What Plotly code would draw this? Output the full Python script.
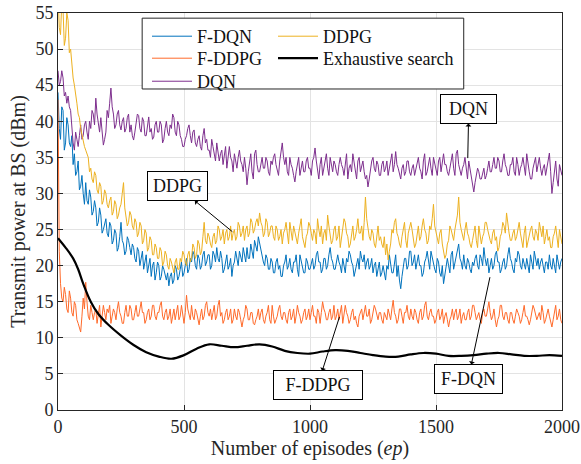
import plotly.graph_objects as go

# Episodes sampled every 5 steps
episodes = list(range(0, 2001, 5))

f_dqn = [
    44.0, 39.0, 37.5, 42.0, 41.5, 36.0, 37.0, 40.5, 39.5, 37.0, 36.5, 38.0, 34.0, 35.5, 32.5, 33.0, 34.5, 30.5, 31.0, 32.5,
    30.0, 28.5, 31.5, 29.0, 28.5, 30.5, 29.5, 27.0, 27.5, 29.0, 28.0, 25.5, 26.0, 28.0, 27.0, 24.5, 25.0, 26.0, 26.5, 24.5,
    24.0, 26.0, 25.5, 23.0, 23.5, 25.0, 24.5, 22.0, 22.5, 24.0, 26.0, 23.5, 23.0, 21.5, 22.0, 24.0, 23.5, 22.5, 21.5, 23.0,
    22.5, 21.0, 20.5, 22.5, 22.0, 20.0, 21.0, 22.0, 19.5, 20.5, 21.5, 19.0, 20.0, 21.0, 18.5, 20.0, 20.5, 18.0, 19.0, 20.5,
    20.0, 18.0, 18.5, 20.0, 19.5, 18.5, 18.0, 19.0, 17.2, 18.5, 19.0, 17.5, 18.0, 20.0, 19.5, 18.0, 18.5, 19.5, 20.5, 18.5,
    19.0, 20.0, 21.0, 19.0, 19.5, 21.0, 20.5, 22.0, 21.5, 20.0, 19.5, 21.5, 21.0, 19.5, 20.0, 21.5, 22.0, 20.0, 20.5, 21.5,
    21.5, 19.5, 20.0, 22.0, 21.5, 20.5, 22.5, 21.0, 20.5, 22.0, 21.0, 19.0, 19.5, 20.5, 21.5, 19.5, 20.0, 21.0, 18.5, 20.0,
    20.5, 22.0, 21.0, 20.0, 22.0, 21.0, 20.5, 22.5, 21.5, 20.5, 22.5, 21.0, 21.0, 23.0, 22.0, 21.0, 23.5, 22.5, 22.0, 24.0,
    23.0, 22.0, 21.5, 20.5, 20.0, 21.5, 21.0, 19.5, 19.5, 21.0, 20.5, 19.0, 19.0, 20.5, 21.0, 19.5, 20.0, 18.5, 18.5, 20.0,
    20.5, 21.5, 19.5, 20.0, 21.0, 19.5, 19.0, 20.5, 20.5, 21.5, 19.5, 18.5, 21.5, 20.5, 20.0, 19.0, 19.0, 21.0, 20.5, 19.5,
    19.5, 20.5, 21.0, 19.5, 20.0, 21.5, 22.0, 20.5, 20.5, 19.0, 19.5, 21.0, 21.0, 19.5, 20.0, 21.5, 22.5, 21.0, 20.5, 19.5,
    19.5, 20.5, 21.5, 20.5, 20.0, 19.0, 21.0, 20.0, 19.0, 21.0, 20.5, 22.0, 21.5, 20.5, 20.0, 18.5, 19.5, 20.5, 21.0, 19.5,
    22.0, 21.0, 20.5, 21.5, 19.5, 20.5, 21.0, 19.5, 20.0, 21.0, 19.0, 20.0, 20.5, 18.5, 19.5, 20.5, 18.5, 19.0, 20.0, 19.0,
    18.0, 20.0, 19.5, 21.5, 20.5, 19.0, 19.0, 20.5, 21.5, 18.5, 20.0, 18.0, 16.8, 18.5, 19.5, 21.0, 21.0, 19.5, 20.0, 22.0,
    22.0, 20.0, 20.5, 21.5, 19.5, 20.5, 21.5, 20.0, 20.0, 18.5, 19.0, 20.5, 21.0, 22.0, 20.5, 19.5, 22.0, 21.0, 20.0, 19.5,
    19.0, 21.0, 20.5, 19.0, 18.5, 20.0, 17.5, 18.5, 19.5, 21.0, 20.0, 19.0, 21.5, 22.0, 19.5, 20.5, 21.0, 22.0, 23.0, 21.0,
    20.5, 19.5, 21.5, 20.0, 19.5, 21.0, 20.5, 19.5, 19.0, 20.5, 20.0, 21.0, 21.5, 20.0, 19.5, 21.5, 21.0, 20.0, 22.5, 21.0,
    20.0, 21.0, 19.0, 20.0, 21.0, 19.5, 20.0, 21.5, 22.0, 20.5, 20.5, 19.0, 19.5, 20.5, 21.0, 19.5, 20.0, 21.5, 22.5, 21.0,
    20.5, 19.5, 19.0, 21.0, 20.5, 22.0, 21.5, 20.0, 19.5, 21.0, 20.0, 19.5, 21.0, 20.0, 19.0, 21.5, 20.5, 19.5, 22.0, 21.0,
    20.0, 21.0, 19.5, 20.5, 21.0, 20.0, 19.0, 20.5, 20.5, 19.5, 21.5, 20.0, 19.5, 21.0, 20.0, 19.0, 21.5, 20.5, 19.5, 20.5,
    21.0,
]

ddpg = [
    58.0, 53.0, 52.0, 56.5, 55.5, 50.5, 51.5, 55.0, 54.0, 49.5, 50.0, 47.5, 46.0, 45.0, 44.0, 42.5, 41.0, 40.5, 39.0, 38.0,
    37.5, 36.5, 36.0, 35.5, 35.0, 33.0, 33.5, 32.0, 31.5, 33.0, 32.5, 30.5, 30.0, 31.5, 31.0, 28.5, 29.0, 30.5, 30.0, 28.5,
    28.0, 29.0, 29.5, 27.0, 27.5, 29.0, 28.5, 26.5, 27.0, 28.0, 28.5, 30.0, 31.5, 28.0, 27.0, 25.5, 26.0, 27.5, 27.0, 25.5,
    25.0, 26.5, 26.0, 24.0, 24.5, 26.0, 25.5, 23.0, 23.5, 25.0, 24.5, 22.0, 22.5, 24.0, 23.5, 21.5, 21.5, 23.0, 22.5, 21.0,
    21.0, 22.5, 22.0, 20.0, 20.5, 22.0, 21.5, 20.0, 19.5, 21.0, 20.5, 19.5, 19.0, 20.5, 21.0, 19.5, 19.5, 21.0, 20.5, 22.0,
    21.5, 20.5, 20.0, 21.5, 22.0, 20.5, 21.0, 23.0, 22.5, 21.0, 21.5, 23.5, 23.0, 21.5, 22.0, 24.0, 26.0, 23.5, 23.0, 24.5,
    24.0, 23.0, 22.5, 24.0, 24.5, 23.0, 23.5, 25.5, 25.0, 23.5, 24.0, 25.0, 23.0, 24.5, 25.0, 23.5, 24.0, 25.5, 23.5, 24.5,
    25.0, 23.5, 24.0, 26.0, 25.5, 24.0, 24.5, 25.5, 23.5, 25.0, 25.5, 24.0, 24.5, 26.5, 26.0, 24.5, 25.0, 26.0, 26.5, 25.5,
    27.3, 26.0, 25.5, 24.0, 24.5, 26.5, 26.0, 24.0, 24.5, 25.5, 25.5, 24.0, 23.5, 25.5, 25.0, 23.5, 24.0, 25.0, 23.0, 24.5,
    25.0, 26.0, 24.0, 23.0, 26.0, 24.5, 23.5, 25.5, 24.5, 23.5, 23.0, 24.5, 25.5, 26.5, 24.0, 23.0, 22.5, 24.0, 24.5, 26.0,
    25.5, 24.5, 23.5, 25.0, 24.5, 23.0, 26.5, 25.0, 24.0, 25.5, 23.0, 24.5, 25.0, 23.5, 27.0, 25.5, 24.5, 23.0, 23.5, 25.0,
    25.5, 23.5, 24.0, 25.5, 22.5, 24.0, 25.0, 26.5, 26.0, 24.5, 24.0, 22.5, 23.0, 24.5, 25.5, 23.5, 24.0, 25.0, 26.5, 24.5,
    24.5, 25.5, 23.5, 26.0, 29.5, 26.5, 25.0, 24.0, 23.5, 25.0, 24.5, 23.0, 22.5, 24.0, 25.5, 23.5, 24.0, 23.0, 22.5, 24.0,
    21.5, 23.0, 20.8, 22.0, 23.0, 25.0, 24.5, 26.0, 26.5, 24.5, 24.0, 23.0, 22.5, 24.0, 25.0, 26.0, 23.5, 22.5, 24.5, 25.5,
    26.0, 25.0, 24.0, 22.5, 23.0, 24.5, 25.5, 23.5, 24.0, 25.5, 26.5, 25.0, 24.5, 23.0, 23.5, 25.5, 25.0, 26.5, 28.5, 25.5,
    24.5, 23.5, 23.0, 24.5, 25.0, 23.0, 22.0, 21.0, 21.5, 23.0, 23.5, 25.5, 25.0, 24.0, 23.5, 25.0, 26.0, 27.0, 29.5, 26.0,
    25.0, 24.0, 23.5, 25.0, 26.0, 24.5, 24.0, 23.0, 22.5, 23.5, 24.5, 25.5, 23.5, 22.5, 25.5, 24.0, 23.0, 24.0, 24.5, 26.0,
    26.0, 25.0, 24.0, 23.5, 23.0, 24.5, 25.0, 23.5, 24.0, 22.0, 22.5, 24.0, 24.5, 26.0, 25.5, 24.5, 27.3, 25.5, 24.5, 23.5,
    23.5, 24.5, 25.0, 23.5, 24.0, 25.0, 26.0, 24.5, 23.5, 22.5, 24.5, 25.5, 22.5, 23.5, 24.0, 25.0, 25.5, 24.0, 23.5, 25.0,
    24.5, 23.5, 26.0, 25.0, 24.0, 25.5, 23.0, 24.0, 25.0, 23.5, 24.0, 22.5, 22.5, 24.0, 24.5, 25.5, 23.5, 22.5, 25.0, 24.0,
    23.0,
]

dqn = [
    47.0, 45.0, 45.5, 47.0, 46.0, 43.5, 44.0, 42.5, 43.5, 42.0, 41.5, 39.0, 37.0, 36.0, 38.5, 37.5, 36.5, 38.0, 39.5, 37.5,
    38.0, 39.5, 40.0, 38.5, 37.5, 40.0, 39.0, 41.5, 41.0, 39.5, 43.2, 41.0, 39.5, 38.5, 40.5, 39.0, 36.7, 37.5, 38.5, 41.5,
    40.5, 42.5, 44.6, 42.0, 41.0, 39.0, 39.5, 41.0, 41.5, 39.5, 38.8, 40.0, 40.5, 38.5, 39.0, 40.5, 41.0, 38.5, 39.5, 38.0,
    37.4, 38.5, 39.5, 41.0, 40.8, 39.0, 38.5, 40.5, 40.0, 38.0, 38.0, 39.5, 40.6, 38.5, 39.0, 37.5, 37.8, 39.5, 40.0, 38.5,
    38.5, 40.0, 39.5, 37.0, 37.5, 39.0, 40.0, 38.5, 38.0, 39.5, 39.0, 41.0, 40.5, 38.5, 38.0, 40.0, 39.5, 38.0, 37.5, 36.5,
    36.5, 37.5, 38.0, 39.0, 39.5, 38.0, 37.0, 38.5, 38.8, 37.0, 36.5, 37.5, 38.0, 36.5, 36.0, 38.0, 39.0, 37.0, 37.5, 36.0,
    36.0, 35.0, 37.5, 36.5, 35.5, 34.5, 37.0, 35.5, 34.5, 35.5, 36.0, 34.0, 35.0, 36.5, 33.5, 35.0, 36.5, 35.0, 34.5, 33.0,
    35.5, 34.5, 33.5, 35.0, 36.0, 34.5, 34.0, 33.0, 35.0, 33.5, 31.2, 33.0, 34.5, 35.5, 33.0, 32.0, 35.5, 36.0, 34.0, 33.0,
    33.0, 34.0, 35.0, 33.5, 33.5, 35.0, 34.5, 33.0, 32.5, 34.5, 34.0, 35.0, 35.5, 34.0, 33.0, 32.5, 34.5, 36.0, 37.0, 35.0,
    34.0, 35.0, 33.0, 32.5, 35.0, 34.0, 33.5, 32.5, 31.6, 33.0, 34.0, 35.0, 32.5, 33.5, 34.5, 33.0, 33.0, 34.5, 35.0, 33.5,
    33.5, 32.5, 34.5, 35.0, 36.3, 34.5, 33.0, 32.0, 34.0, 35.0, 32.5, 33.5, 34.5, 35.5, 33.5, 32.5, 35.0, 34.0, 33.0, 34.5,
    34.0, 33.0, 32.5, 34.0, 35.0, 34.0, 33.5, 32.5, 34.5, 35.5, 32.0, 33.5, 34.0, 33.0, 35.5, 34.5, 33.0, 32.0, 34.5, 35.0,
    33.0, 34.0, 34.5, 33.0, 32.0, 32.5, 30.9, 32.0, 33.5, 34.5, 35.0, 33.5, 33.0, 34.5, 34.0, 32.5, 32.5, 34.0, 34.5, 33.0,
    33.5, 34.5, 32.5, 33.5, 34.5, 35.5, 33.0, 34.0, 35.8, 34.0, 33.5, 32.5, 32.0, 33.5, 34.0, 32.5, 33.0, 34.5, 34.5, 33.0,
    32.5, 33.5, 34.0, 32.5, 33.5, 34.5, 35.0, 33.5, 33.0, 32.0, 34.5, 35.5, 32.5, 33.0, 34.0, 35.0, 33.5, 32.5, 35.0, 34.0,
    33.5, 32.5, 34.5, 35.0, 33.0, 34.0, 35.5, 34.0, 34.0, 33.0, 32.5, 33.5, 34.5, 35.5, 33.5, 32.5, 35.5, 36.0, 34.0, 33.0,
    32.5, 33.5, 34.0, 35.0, 33.0, 32.0, 34.5, 33.5, 32.0, 31.5, 30.2, 31.5, 32.5, 33.5, 33.0, 32.0, 32.0, 33.0, 33.5, 32.0,
    32.5, 33.5, 34.5, 33.0, 33.0, 34.0, 35.0, 33.5, 33.5, 35.0, 34.5, 33.0, 33.0, 34.5, 35.5, 34.0, 33.5, 32.5, 32.5, 34.0,
    34.0, 35.0, 33.0, 32.5, 35.0, 34.0, 32.5, 33.5, 34.0, 35.0, 33.5, 32.5, 35.5, 34.0, 33.0, 32.0, 32.0, 33.5, 34.5, 35.0,
    33.0, 34.0, 35.0, 33.5, 32.5, 33.5, 34.0, 32.5, 33.5, 34.5, 35.6, 33.0, 30.0, 31.5, 33.5, 34.5, 32.0, 31.0, 34.0, 33.0,
    32.5,
]

f_ddpg = [
    43.0, 22.0, 17.5, 15.5, 15.0, 17.0, 16.0, 14.0, 13.5, 16.5, 15.5, 13.5, 13.0, 15.0, 14.5, 12.5, 12.0, 11.5, 10.8, 13.0,
    15.5, 14.0, 17.7, 15.0, 13.0, 12.5, 14.5, 13.5, 12.5, 13.5, 14.0, 12.0, 13.0, 14.5, 11.5, 13.0, 14.5, 13.5, 12.5, 14.0,
    13.5, 14.5, 12.0, 13.0, 14.0, 13.5, 12.5, 14.0, 15.0, 13.5, 13.0, 12.0, 12.0, 13.5, 14.5, 13.0, 13.0, 14.5, 14.0, 12.5,
    12.5, 13.5, 14.5, 13.0, 13.0, 14.0, 15.0, 13.5, 13.5, 12.0, 12.5, 13.5, 14.0, 12.5, 13.0, 14.5, 14.5, 13.0, 12.5, 13.5,
    13.5, 14.5, 15.0, 13.0, 12.5, 13.5, 14.0, 12.5, 13.0, 14.0, 12.0, 13.0, 14.0, 12.5, 13.5, 14.5, 12.5, 13.0, 14.5, 13.0,
    12.0, 13.5, 15.9, 14.0, 13.0, 12.5, 14.5, 13.0, 12.5, 14.0, 13.5, 12.5, 11.8, 13.0, 14.0, 12.5, 13.0, 14.5, 15.0, 13.5,
    13.0, 14.0, 12.5, 13.5, 14.5, 12.5, 13.0, 14.5, 15.2, 13.0, 13.5, 12.0, 12.5, 13.5, 14.0, 12.5, 13.0, 14.0, 12.0, 12.5,
    14.0, 13.0, 12.5, 14.0, 13.5, 12.5, 11.5, 12.5, 13.0, 14.5, 14.0, 12.5, 12.5, 13.5, 13.5, 12.0, 11.8, 12.5, 13.0, 14.0,
    12.5, 13.5, 14.0, 12.5, 12.0, 13.0, 13.5, 14.5, 12.5, 12.0, 14.5, 13.0, 12.0, 12.5, 13.0, 14.0, 14.5, 13.0, 12.5, 13.5,
    13.5, 12.5, 12.0, 13.5, 14.0, 12.5, 13.0, 14.0, 12.0, 13.0, 14.5, 13.5, 13.0, 12.0, 12.5, 13.5, 14.0, 12.5, 13.0, 14.0,
    12.5, 13.5, 14.5, 13.0, 13.0, 12.0, 14.0, 13.5, 12.0, 13.5, 15.0, 14.0, 13.5, 12.5, 12.5, 13.5, 14.0, 12.5, 13.0, 14.5,
    12.5, 13.0, 14.0, 12.5, 13.5, 14.5, 12.0, 13.0, 14.5, 13.5, 13.0, 12.0, 12.5, 13.5, 14.0, 12.5, 13.0, 12.0, 11.5, 13.0,
    13.5, 14.0, 12.5, 13.5, 14.5, 13.0, 13.0, 14.0, 12.0, 12.5, 13.5, 14.5, 14.0, 13.0, 12.5, 13.5, 13.5, 12.5, 12.0, 13.5,
    13.0, 12.5, 14.0, 13.0, 12.5, 14.0, 15.2, 13.5, 13.0, 12.0, 12.5, 14.0, 14.0, 13.0, 12.0, 13.5, 13.5, 14.5, 13.0, 12.5,
    14.0, 13.0, 12.5, 14.0, 13.5, 12.5, 12.0, 13.5, 14.0, 12.5, 13.0, 14.5, 15.0, 13.0, 12.5, 13.5, 14.0, 13.0, 13.0, 12.0,
    12.5, 13.5, 14.0, 12.5, 13.0, 14.0, 12.0, 13.0, 13.5, 12.5, 11.5, 12.5, 13.0, 14.0, 12.5, 13.5, 14.0, 12.5, 13.0, 14.0,
    12.0, 13.0, 13.5, 12.5, 12.5, 13.5, 14.0, 12.5, 13.0, 14.5, 14.5, 13.5, 12.5, 13.0, 13.5, 12.5, 12.0, 13.5, 14.0, 13.0,
    13.0, 14.0, 15.0, 13.5, 12.5, 13.0, 14.0, 12.5, 11.5, 12.5, 13.0, 14.5, 14.5, 13.0, 12.5, 13.5, 13.5, 12.5, 12.0, 13.5,
    13.5, 12.5, 12.0, 13.0, 14.0, 13.5, 13.0, 12.0, 12.5, 13.5, 14.5, 13.0, 13.0, 12.5, 11.8, 12.5, 13.5, 14.5, 14.0, 13.0,
    12.5, 13.0, 13.5, 12.5, 14.5, 13.5, 12.0, 12.5, 13.5, 14.0, 13.0, 12.0, 11.5, 12.5, 13.5, 14.5, 12.5, 13.0, 14.0, 12.5,
    12.0,
]

exh_episodes = [0, 30, 60, 80, 100, 130, 160, 200, 250, 300, 350, 400, 450, 500,
                550, 600, 650, 700, 750, 800, 850, 900, 950, 1000, 1050, 1100,
                1150, 1200, 1250, 1300, 1350, 1400, 1450, 1500, 1550, 1600, 1650,
                1700, 1750, 1800, 1850, 1900, 1950, 2000]
exhaustive = [23.8, 22.5, 21.0, 19.5, 17.5, 15.0, 13.3, 11.8, 10.3, 9.0, 8.0, 7.4,
              7.1, 7.6, 8.5, 9.1, 8.9, 8.7, 8.9, 9.1, 8.8, 8.2, 7.9, 7.8, 8.1, 8.3,
              8.2, 7.9, 7.6, 7.4, 7.4, 7.7, 7.9, 7.8, 7.5, 7.5, 7.6, 7.8, 7.9, 7.7,
              7.5, 7.5, 7.6, 7.5]

for _name, _arr in [("f_dqn", f_dqn), ("ddpg", ddpg), ("dqn", dqn), ("f_ddpg", f_ddpg)]:
    if len(_arr) != len(episodes):
        raise ValueError(f"{_name}: {len(_arr)} values, expected {len(episodes)}")

x_ticks = [0, 500, 1000, 1500, 2000]
y_ticks = list(range(0, 56, 5))

C_FDQN = "#0072BD"
C_DDPG = "#EDB120"
C_FDDPG = "#FF6A2A"
C_DQN = "#7E2F8E"

FONT = "Times New Roman, Liberation Serif, serif"

fig = go.Figure()
fig.add_trace(go.Scatter(x=episodes, y=f_dqn, name="F-DQN", mode="lines",
                         line=dict(color=C_FDQN, width=1.0), legend="legend"))
fig.add_trace(go.Scatter(x=episodes, y=f_ddpg, name="F-DDPG", mode="lines",
                         line=dict(color=C_FDDPG, width=1.0), legend="legend2"))
fig.add_trace(go.Scatter(x=episodes, y=dqn, name="DQN", mode="lines",
                         line=dict(color=C_DQN, width=1.0), legend="legend3"))
fig.add_trace(go.Scatter(x=episodes, y=ddpg, name="DDPG", mode="lines",
                         line=dict(color=C_DDPG, width=1.0), legend="legend4"))
fig.add_trace(go.Scatter(x=exh_episodes, y=exhaustive, name="Exhaustive search",
                         mode="lines", line=dict(color="black", width=2.2, shape="spline",
                                                 smoothing=1.0), legend="legend5"))

axis_common = dict(
    showline=True, mirror=True, linecolor="#262626", linewidth=1,
    ticks="inside", ticklen=5, tickcolor="#262626",
    showgrid=True, gridcolor="#e3e3e3", gridwidth=1, zeroline=False,
    tickfont=dict(family=FONT, size=18, color="#262626"),
    automargin=False,
)

fig.update_xaxes(range=[0, 2000], tickvals=x_ticks,
                 title=dict(text="Number of episodes (<i>ep</i>)",
                            font=dict(family=FONT, size=20, color="#262626"), standoff=4),
                 **axis_common)
fig.update_yaxes(range=[0, 55], tickvals=y_ticks,
                 title=dict(text="Transmit power at BS (dBm)",
                            font=dict(family=FONT, size=20, color="#262626"), standoff=4),
                 **axis_common)

legend_common = dict(
    bgcolor="rgba(0,0,0,0)", borderwidth=0,
    font=dict(family=FONT, size=18, color="#111111"),
    xanchor="left", yanchor="top", tracegroupgap=0, itemwidth=40,
)
col1_x, col2_x = 0.1766, 0.4266
row_y = [0.9874, 0.932, 0.874]

fig.update_layout(
    width=581, height=464,
    margin=dict(l=58, r=19, t=13, b=54),
    paper_bgcolor="white", plot_bgcolor="white",
    showlegend=True,
    legend=dict(x=col1_x, y=row_y[0], **legend_common),
    legend2=dict(x=col1_x, y=row_y[1], **legend_common),
    legend3=dict(x=col1_x, y=row_y[2], **legend_common),
    legend4=dict(x=col2_x, y=row_y[0], **legend_common),
    legend5=dict(x=col2_x, y=row_y[1], **legend_common),
    shapes=[dict(type="rect", xref="paper", yref="paper",
                 x0=0.167, x1=0.805, y0=0.8086, y1=0.987,
                 line=dict(color="#262626", width=1), fillcolor="white", layer="above")],
)

ann_font = dict(family=FONT, size=18, color="#111111")
labels = [
    # text, curve point (x, y), box centre (ax, ay), box width
    ("DQN", 1626, 34.9, 1630, 41.7, 49),
    ("DDPG", 692, 24.7, 473, 31.0, 53),
    ("F-DDPG", 1117, 12.9, 1030, 3.4, 82),
    ("F-DQN", 1714, 18.4, 1628, 4.3, 61),
]
for text, px, py, bx, by, w in labels:
    fig.add_annotation(
        x=px, y=py, ax=bx, ay=by, xref="x", yref="y", axref="x", ayref="y",
        text=text, font=ann_font, showarrow=True, arrowside="start",
        arrowhead=2, arrowsize=1.6, arrowwidth=1, arrowcolor="black",
        bgcolor="white", bordercolor="black", borderwidth=1, borderpad=3,
        width=w, height=22,
    )

fig.write_html("out.html")
